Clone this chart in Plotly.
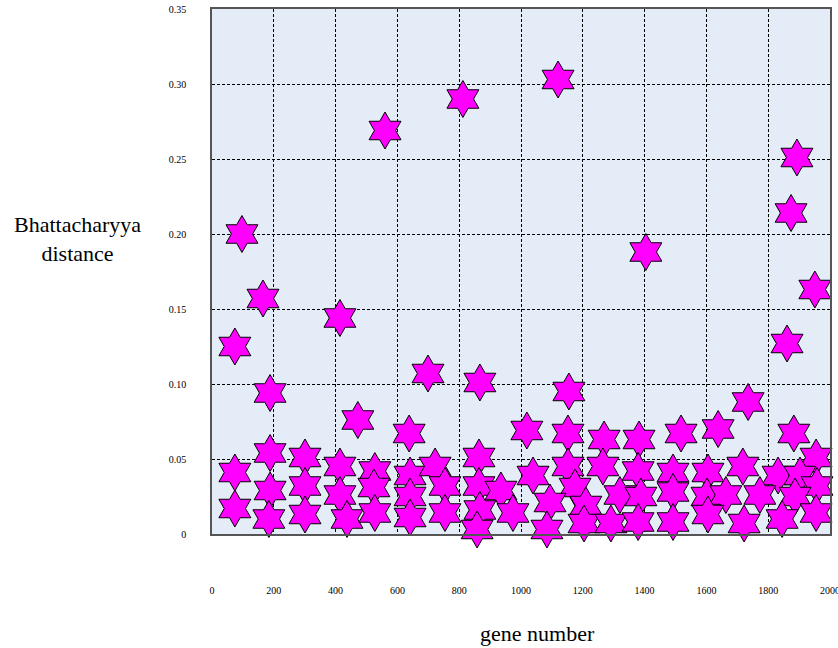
import plotly.graph_objects as go

# Gene numbers and Bhattacharyya distances
gene_number = [
    74, 97, 165, 188, 414, 472, 560, 638, 699, 812,
    867, 1019, 1120, 1155, 1152, 1269, 1382, 1404, 1518, 1638,
    1735, 1861, 1874, 1893, 1883, 1951, 1955,
    74, 188, 301, 414, 527, 641, 722, 864, 1039, 1152,
    1265, 1379, 1492, 1605, 1718, 1832, 1903, 1958,
    188, 301, 414, 524, 641, 754, 864, 935, 1175, 1094,
    1210, 1320, 1388, 1492, 1602, 1663, 1773, 1887,
    74, 184, 301, 437, 527, 641, 754, 867, 858, 974,
    1084, 1204, 1291, 1379, 1492, 1605, 1722, 1845, 1955,
]
distance = [
    0.125, 0.200, 0.157, 0.094, 0.144, 0.076, 0.269, 0.067, 0.107, 0.290,
    0.101, 0.069, 0.303, 0.095, 0.067, 0.063, 0.063, 0.188, 0.067, 0.070,
    0.088, 0.127, 0.214, 0.251, 0.067, 0.163, 0.051,
    0.041, 0.054, 0.051, 0.045, 0.042, 0.039, 0.045, 0.051, 0.039, 0.045,
    0.045, 0.042, 0.041, 0.041, 0.045, 0.039, 0.039, 0.032,
    0.029, 0.032, 0.026, 0.031, 0.025, 0.032, 0.032, 0.029, 0.031, 0.021,
    0.019, 0.026, 0.025, 0.028, 0.025, 0.026, 0.026, 0.025,
    0.017, 0.010, 0.013, 0.010, 0.014, 0.011, 0.014, 0.016, 0.003, 0.014,
    0.003, 0.007, 0.007, 0.008, 0.008, 0.013, 0.007, 0.010, 0.014,
]

x_tickvals = [0, 200, 400, 600, 800, 1000, 1200, 1400, 1600, 1800, 2000]
x_ticktext = ["0", "200", "400", "600", "800", "1000", "1200", "1400", "1600", "1800", "2000"]
y_tickvals = [0, 0.05, 0.10, 0.15, 0.20, 0.25, 0.30, 0.35]
y_ticktext = ["0", "0.05", "0.10", "0.15", "0.20", "0.25", "0.30", "0.35"]

FONT = "Liberation Serif, Times New Roman, serif"

W, H = 838, 648
L, R, T, B = 212, 8, 9, 114
PW, PH = W - L - R, H - T - B

fig = go.Figure()
fig.add_trace(go.Scatter(
    x=gene_number, y=distance, mode="markers",
    marker=dict(symbol="hexagram", size=28, color="#FF00FF",
                line=dict(color="#000000", width=1)),
    cliponaxis=False, showlegend=False,
))

fig.update_layout(
    width=W, height=H,
    margin=dict(l=L, r=R, t=T, b=B),
    paper_bgcolor="white",
    plot_bgcolor="rgb(228,236,247)",
    font=dict(family=FONT, size=10, color="black"),
    xaxis=dict(range=[0, 2000], tickvals=x_tickvals, ticktext=x_ticktext,
               showgrid=True, gridcolor="black", gridwidth=1, griddash="3px,2px",
               zeroline=False, showline=True, linecolor="#555555", linewidth=1.5,
               mirror=True, ticks="outside", ticklen=46, tickcolor="rgba(0,0,0,0)",
               tickfont=dict(family=FONT, size=10), automargin=False,
               ticklabeloverflow="allow"),
    yaxis=dict(range=[0, 0.35], tickvals=y_tickvals, ticktext=y_ticktext,
               showgrid=True, gridcolor="black", gridwidth=1, griddash="3px,2px",
               zeroline=False, showline=True, linecolor="#555555", linewidth=1.5,
               mirror=True, ticks="outside", ticklen=22, tickcolor="rgba(0,0,0,0)",
               tickfont=dict(family=FONT, size=10), automargin=False,
               ticklabeloverflow="allow"),
    annotations=[
        dict(text="Bhattacharyya<br>distance", xref="paper", yref="paper",
             x=(77 - L) / PW, y=(PH + T - 239) / PH, showarrow=False,
             xanchor="center", yanchor="middle",
             font=dict(family=FONT, size=22, color="black")),
        dict(text="gene number", xref="paper", yref="paper",
             x=(537 - L) / PW, y=(PH + T - 633) / PH, showarrow=False,
             xanchor="center", yanchor="middle",
             font=dict(family=FONT, size=22, color="black")),
    ],
)

fig.write_html(
    "out.html",
    config={"displayModeBar": False},
    post_script="document.body.style.margin='0';document.body.style.overflow='hidden';",
)
